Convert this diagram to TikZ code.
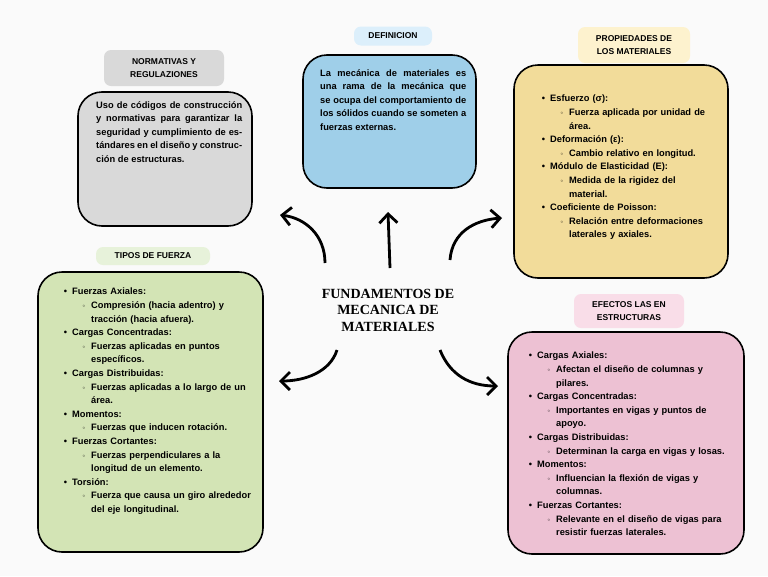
\documentclass[tikz,border=0pt]{standalone}
\usepackage{fontspec}
\setmainfont{Liberation Sans}
\newfontfamily\titlefont{Liberation Serif}
\usetikzlibrary{arrows.meta}
\definecolor{grayF}{HTML}{D9D9D9}
\definecolor{blueF}{HTML}{9FCFE9}
\definecolor{blueL}{HTML}{DCEFFB}
\definecolor{yelF}{HTML}{F2DC9A}
\definecolor{yelL}{HTML}{FDF2CE}
\definecolor{greF}{HTML}{D3E4B5}
\definecolor{greL}{HTML}{E7F2DA}
\definecolor{pinF}{HTML}{EDC1D3}
\definecolor{pinL}{HTML}{F9DDE8}
\definecolor{bgc}{HTML}{FAFAFA}
\newcommand\bA[1]{\par\noindent\hangindent=19pt\hangafter=1\hbox to 19pt{\hss\textbullet\hskip5pt}#1}
\newcommand\bB[1]{\par\noindent\hangindent=38pt\hangafter=1\hbox to 38pt{\hss\raisebox{1pt}{\scalebox{0.55}{$\circ$}}\hskip6pt}#1}
\tikzset{
 box/.style={draw=black,line width=1.6pt,rounded corners=24pt,anchor=north west,inner sep=0pt},
 lab/.style={rounded corners=7pt,font=\bfseries\fontsize{8.5}{13}\selectfont,align=center,inner sep=3pt},
 txt/.style={anchor=north west,font=\bfseries\fontsize{9.3}{13.6}\selectfont,inner sep=0pt},
 arr/.style={line width=2.8pt,-{Straight Barb[length=9pt,width=18pt,line width=2.8pt]}}
}
\begin{document}
\begin{tikzpicture}[x=1pt,y=-1pt]
\fill[bgc] (0,0) rectangle (768,576);
\useasboundingbox (0,0) rectangle (768,576);
% boxes
\fill[grayF,draw=black,line width=1.6pt,rounded corners=24pt] (78,92) rectangle (252,226);
\fill[blueF,draw=black,line width=1.6pt,rounded corners=24pt] (303,55) rectangle (476,188);
\fill[yelF,draw=black,line width=1.6pt,rounded corners=24pt] (514,65) rectangle (728,278);
\fill[greF,draw=black,line width=1.6pt,rounded corners=24pt] (38,272) rectangle (263,552);
\fill[pinF,draw=black,line width=1.6pt,rounded corners=24pt] (508,332) rectangle (744,554);
% labels
\node[lab,fill=grayF,minimum width=120pt,minimum height=36pt] (lnor) at (164,68) {NORMATIVAS Y\\REGULAZIONES};
\node[lab,fill=blueL,minimum width=78pt,minimum height=19pt] (ldef) at (393,36) {DEFINICION};
\node[lab,fill=yelL,minimum width=112pt,minimum height=36pt] (lpro) at (634,45) {PROPIEDADES DE\\LOS MATERIALES};
\node[lab,fill=greL,minimum width=114pt,minimum height=18pt] (ltip) at (153,256) {TIPOS DE FUERZA};
\node[lab,fill=pinL,minimum width=110pt,minimum height=34pt] (lefe) at (629,311) {EFECTOS LAS EN\\ESTRUCTURAS};
% texts
\node[txt,text width=146pt,align=justify] (tnor) at (96,101) {Uso de códigos de construcción y normativas para garantizar la seguridad y cumplimiento de estándares en el diseño y construcción de estructuras.};
\node[txt,text width=146pt,align=justify] (tdef) at (320,69) {La mecánica de materiales es una rama de la mecánica que se ocupa del comportamiento de los sólidos cuando se someten a fuerzas externas.};
\node[txt,text width=180pt] (tpro) at (531,88) {\raggedright
\bA{Esfuerzo (σ):}\bB{Fuerza aplicada por unidad de área.}
\bA{Deformación (ε):}\bB{Cambio relativo en longitud.}
\bA{Módulo de Elasticidad (E):}\bB{Medida de la rigidez del material.}
\bA{Coeficiente de Poisson:}\bB{Relación entre deformaciones laterales y axiales.}\par};
\node[txt,text width=200pt] (ttip) at (53,281) {\raggedright
\bA{Fuerzas Axiales:}\bB{Compresión (hacia adentro) y tracción (hacia afuera).}
\bA{Cargas Concentradas:}\bB{Fuerzas aplicadas en puntos específicos.}
\bA{Cargas Distribuidas:}\bB{Fuerzas aplicadas a lo largo de un área.}
\bA{Momentos:}\bB{Fuerzas que inducen rotación.}
\bA{Fuerzas Cortantes:}\bB{Fuerzas perpendiculares a la longitud de un elemento.}
\bA{Torsión:}\bB{Fuerza que causa un giro alrededor del eje longitudinal.}\par};
\node[txt,text width=214pt] (tefe) at (518,345) {\raggedright
\bA{Cargas Axiales:}\bB{Afectan el diseño de columnas y pilares.}
\bA{Cargas Concentradas:}\bB{Importantes en vigas y puntos de apoyo.}
\bA{Cargas Distribuidas:}\bB{Determinan la carga en vigas y losas.}
\bA{Momentos:}\bB{Influencian la flexión de vigas y columnas.}
\bA{Fuerzas Cortantes:}\bB{Relevante en el diseño de vigas para resistir fuerzas laterales.}\par};
% center
\node[font=\titlefont\bfseries\fontsize{14}{16.5}\selectfont,align=center,inner sep=2pt] (c) at (388,310) {FUNDAMENTOS DE\\MECANICA DE\\MATERIALES};
\coordinate (s1) at (325,263); \coordinate (e1) at (280,215);
\coordinate (s2) at (390,268); \coordinate (e2) at (388,212);
\coordinate (s3) at (450,260); \coordinate (e3) at (502,218);
\coordinate (s4) at (337,350); \coordinate (e4) at (279,381);
\coordinate (s5) at (440,350); \coordinate (e5) at (498,386);
\draw[arr] (s1) .. controls (325,235) and (305,218) .. (e1);
\draw[arr] (s2) -- (e2);
\draw[arr] (s3) .. controls (452,232) and (475,220) .. (e3);
\draw[arr] (s4) .. controls (330,372) and (305,381) .. (e4);
\draw[arr] (s5) .. controls (450,375) and (470,386) .. (e5);
\end{tikzpicture}
\end{document}
